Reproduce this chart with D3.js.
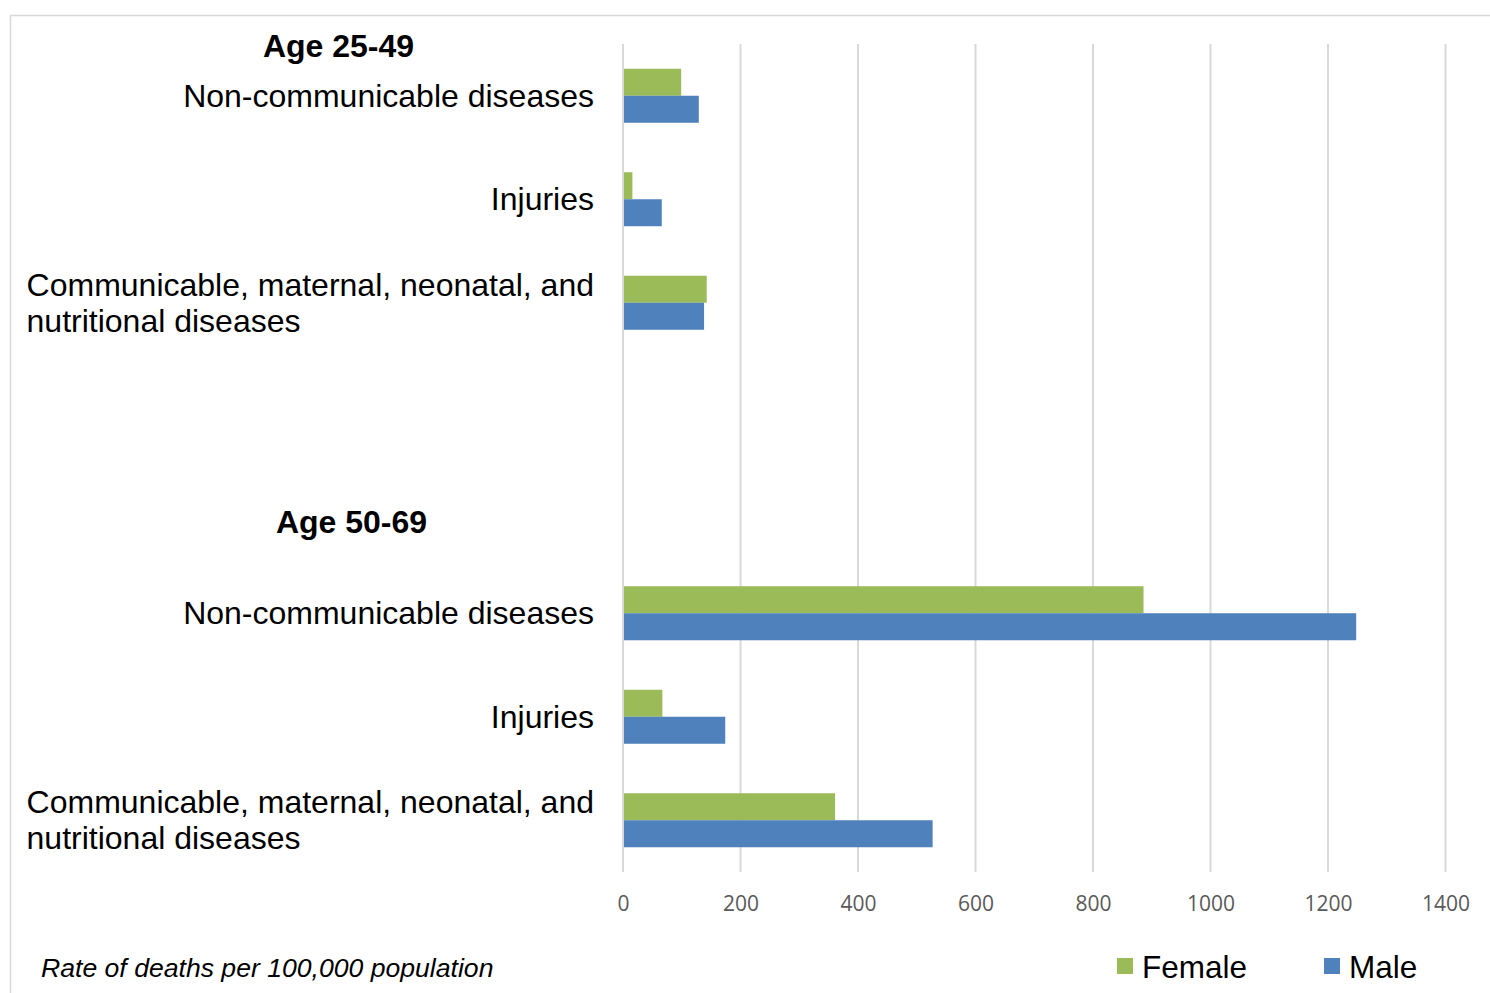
<!DOCTYPE html>
<html>
<head>
<meta charset="utf-8">
<script src="https://cdn.jsdelivr.net/npm/d3@7"></script>
<style>
  html, body { margin: 0; padding: 0; background: #fff; }
  svg { display: block; }
</style>
</head>
<body>
<svg id="chart" width="1490" height="993"></svg>
<script>
// Death rates per 100,000 population by cause, sex and age group
const ageGroups = ["Age 25-49", "Age 50-69"];
const causes = ["Non-communicable diseases", "Injuries", "Communicable, maternal, neonatal, and nutritional diseases"];
const causeLines = [["Non-communicable diseases"], ["Injuries"], ["Communicable, maternal, neonatal, and", "nutritional diseases"]];
const series = ["Female", "Male"];
const female2549 = [99, 16, 142.5];
const male2549 = [129, 66, 138];
const female5069 = [886, 67, 361];
const male5069 = [1248, 174, 527];
const xTicks = [0, 200, 400, 600, 800, 1000, 1200, 1400];
const noteText = "Rate of deaths per 100,000 population";

const colors = { Female: "#9bbb59", Male: "#4f81bd" };

// Rows: three causes for each age group, with two empty slots between the groups
const rows = [];
causes.forEach((c, i) => rows.push({ key: "a" + i, group: 0, cause: i, Female: female2549[i], Male: male2549[i] }));
rows.push({ key: "gap1" }, { key: "gap2" });
causes.forEach((c, i) => rows.push({ key: "b" + i, group: 1, cause: i, Female: female5069[i], Male: male5069[i] }));

const svg = d3.select("#chart");
const plot = { left: 623, right: 1445.5, top: 44, bottom: 872 };

const x = d3.scaleLinear().domain([0, 1400]).range([plot.left, plot.right]);
const y = d3.scaleBand().domain(rows.map(r => r.key)).range([plot.top, plot.bottom])
  .paddingInner(0.478).paddingOuter(0.239);
const ySub = d3.scaleBand().domain(series).range([0, y.bandwidth()]);

// Outer frame (top and left edges visible)
svg.append("path")
  .attr("d", "M10.5,993 V15.5 H1490")
  .attr("fill", "none").attr("stroke", "#d9d9d9").attr("stroke-width", 1.5);

// Vertical gridlines
svg.append("g").selectAll("line").data(xTicks).join("line")
  .attr("x1", d => x(d)).attr("x2", d => x(d))
  .attr("y1", plot.top).attr("y2", plot.bottom)
  .attr("stroke", "#d9d9d9").attr("stroke-width", 2);

// Tick labels
const axis = d3.axisBottom(x).tickValues(xTicks).tickSize(0).tickPadding(0).tickFormat(d3.format("d"));
const axisG = svg.append("g").attr("transform", `translate(0, ${plot.bottom + 20})`).call(axis);
axisG.select(".domain").remove();
axisG.selectAll("text")
  .attr("dy", null).attr("y", 18.5)
  .attr("font-family", "'Open Sans', sans-serif").attr("font-size", 21)
  .attr("fill", "#595959");

// Bars
const dataRows = rows.filter(r => r.Female !== undefined);
const rowG = svg.append("g").selectAll("g").data(dataRows).join("g")
  .attr("transform", d => `translate(0, ${y(d.key)})`);
rowG.selectAll("rect").data(d => series.map(s => ({ s, v: d[s] }))).join("rect")
  .attr("x", x(0) + 1)
  .attr("y", d => ySub(d.s))
  .attr("width", d => x(d.v) - x(0) - 1)
  .attr("height", ySub.bandwidth())
  .attr("fill", d => colors[d.s]);

// Category labels
const labelFont = "'Liberation Sans', Arial, sans-serif";
const labelSize = 32;
const labelRight = 594;
dataRows.forEach(r => {
  const cy = y(r.key) + y.bandwidth() / 2;
  const lines = causeLines[r.cause];
  if (lines.length === 1) {
    svg.append("text").attr("x", labelRight).attr("y", cy + 11)
      .attr("text-anchor", "end").attr("font-family", labelFont).attr("font-size", labelSize)
      .attr("fill", "#000").text(lines[0]);
  } else {
    const first = svg.append("text").attr("x", labelRight).attr("y", cy - 7)
      .attr("text-anchor", "end").attr("font-family", labelFont).attr("font-size", labelSize)
      .attr("fill", "#000").text(lines[0]);
    const startX = labelRight - first.node().getComputedTextLength();
    svg.append("text").attr("x", startX).attr("y", cy + 29)
      .attr("text-anchor", "start").attr("font-family", labelFont).attr("font-size", labelSize)
      .attr("fill", "#000").text(lines[1]);
  }
});

// Age group headings
const headingPos = [
  { x: 338.5, y: plot.top + 13 },
  { x: 351.5, y: y("gap2") + y.bandwidth() / 2 + 23 }
];
ageGroups.forEach((g, i) => {
  svg.append("text").attr("x", headingPos[i].x).attr("y", headingPos[i].y)
    .attr("text-anchor", "middle").attr("font-family", labelFont).attr("font-size", labelSize)
    .attr("font-weight", "bold").attr("fill", "#000").text(g);
});

// Note
svg.append("text").attr("x", 41).attr("y", 977)
  .attr("font-family", labelFont).attr("font-size", 26.6).attr("font-style", "italic")
  .attr("fill", "#000").text(noteText);

// Legend
const legendX = [1117, 1324];
const legend = svg.append("g").selectAll("g").data(series).join("g")
  .attr("transform", (d, i) => `translate(${legendX[i]}, 958)`);
legend.append("rect").attr("width", 16).attr("height", 16).attr("fill", d => colors[d]);
legend.append("text").attr("x", 25).attr("y", 19.5)
  .attr("font-family", labelFont).attr("font-size", 31.5).attr("fill", "#000").text(d => d);
</script>
</body>
</html>
